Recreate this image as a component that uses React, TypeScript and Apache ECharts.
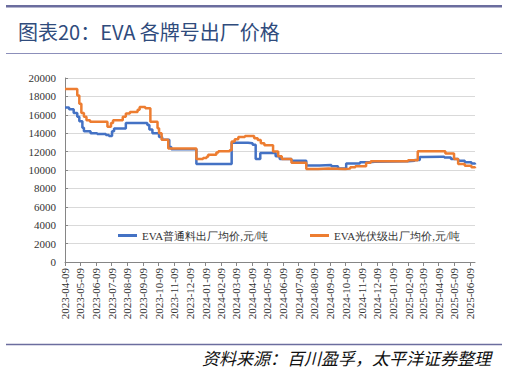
import React, { useEffect, useRef } from "react";
import * as echarts from "echarts";

const titleText = "图表20：EVA 各牌号出厂价格";
const sourceText = "资料来源：百川盈孚，太平洋证券整理";
const seriesNames = ["EVA普通料出厂均价,元/吨", "EVA光伏级出厂均价,元/吨"];

const tickLabels = [
  "2023-04-09", "2023-05-09", "2023-06-09", "2023-07-09", "2023-08-09", "2023-09-09",
  "2023-10-09", "2023-11-09", "2023-12-09", "2024-01-09", "2024-02-09", "2024-03-09",
  "2024-04-09", "2024-05-09", "2024-06-09", "2024-07-09", "2024-08-09", "2024-09-09",
  "2024-10-09", "2024-11-09", "2024-12-09", "2025-01-09", "2025-02-09", "2025-03-09",
  "2025-04-09", "2025-05-09", "2025-06-09",
];
const axisStart = "2023-04-09";
const axisEnd = "2025-06-19";

// EVA 普通料 (blue) – price change points
const blueDates = [
  "2023-04-09", "2023-04-17", "2023-04-26", "2023-05-03", "2023-05-07", "2023-05-13",
  "2023-05-16", "2023-05-29", "2023-06-11", "2023-06-28", "2023-07-04", "2023-07-10",
  "2023-07-14", "2023-08-06", "2023-09-17", "2023-09-21", "2023-09-27", "2023-10-10",
  "2023-10-16", "2023-10-30", "2023-11-03", "2023-12-22", "2024-02-29", "2024-04-01",
  "2024-04-10", "2024-04-16", "2024-04-25", "2024-05-25", "2024-06-02", "2024-06-25",
  "2024-07-24", "2024-08-19", "2024-09-11", "2024-09-24", "2024-10-10", "2024-11-06",
  "2024-11-25", "2024-12-05", "2025-02-08", "2025-02-21", "2025-03-03", "2025-03-10",
  "2025-04-14", "2025-04-20", "2025-05-03", "2025-05-17", "2025-05-30", "2025-06-12",
  "2025-06-19",
];
const blueValues = [
  16800, 16600, 16200, 15800, 15300, 14600,
  14200, 14000, 13900, 13800, 13700, 14200,
  14500, 15100, 14900, 14400, 14000, 13600,
  13300, 12500, 12250, 10650, 12950, 12900,
  12750, 11200, 11850, 11500, 11200, 11000,
  10500, 10550, 10400, 10150, 10700, 10850,
  10900, 10950, 11000, 11100, 11400, 11450,
  11450, 11350, 11200, 11000, 10850, 10700,
  10600,
];

// EVA 光伏级 (orange) – price change points
const orangeDates = [
  "2023-04-09", "2023-05-03", "2023-05-07", "2023-05-11", "2023-05-16", "2023-05-21",
  "2023-05-28", "2023-07-01", "2023-07-08", "2023-07-12", "2023-07-31", "2023-08-06",
  "2023-08-14", "2023-08-29", "2023-09-02", "2023-09-13", "2023-09-23", "2023-10-07",
  "2023-10-10", "2023-10-15", "2023-10-28", "2023-12-22", "2024-01-04", "2024-01-11",
  "2024-01-14", "2024-01-30", "2024-02-03", "2024-02-25", "2024-02-29", "2024-03-06",
  "2024-03-13", "2024-03-26", "2024-04-13", "2024-04-20", "2024-04-26", "2024-05-03",
  "2024-05-20", "2024-05-30", "2024-06-06", "2024-06-25", "2024-07-24", "2024-08-16",
  "2024-09-05", "2024-10-08", "2024-10-18", "2024-10-28", "2024-11-18", "2024-11-27",
  "2025-02-08", "2025-02-27", "2025-04-22", "2025-05-09", "2025-05-17", "2025-05-30",
  "2025-06-12", "2025-06-19",
];
const orangeValues = [
  18800, 18100, 17200, 16200, 15800, 15400,
  15250, 14700, 15100, 15400, 15800, 16150,
  16300, 16550, 16850, 16700, 15250, 14550,
  14000, 13300, 12350, 11200, 11300, 11450,
  11650, 11900, 12050, 12150, 13100, 13350,
  13600, 13700, 13450, 13250, 12900, 12700,
  12000, 11500, 11200, 10800, 10100, 10150,
  10100, 10150, 10300, 10400, 10800, 10950,
  11050, 12050, 11800, 11200, 10650, 10450,
  10300, 10200,
];

const yMin = 0;
const yMax = 20000;
const yStep = 2000;

function toTs(s: string): number {
  const [y, m, d] = s.split("-").map(Number);
  return new Date(y, m - 1, d).getTime();
}
function fmt(v: number): string {
  const d = new Date(v);
  const p = (n: number) => (n < 10 ? "0" + n : "" + n);
  return d.getFullYear() + "-" + p(d.getMonth() + 1) + "-" + p(d.getDate());
}

export default function App() {
  const ref = useRef<HTMLDivElement>(null);
  useEffect(() => {
    if (!ref.current) return;
    const chart = echarts.init(ref.current, null, { renderer: "svg" });
    const tickTs = tickLabels.map(toTs);
    const serif = "Liberation Serif";
    chart.setOption({
      animation: false,
      backgroundColor: "#ffffff",
      grid: { left: 65, right: 32, top: 78, bottom: 109, containLabel: false },
      legend: {
        left: 113,
        top: 225,
        itemGap: 42,
        itemWidth: 19,
        itemHeight: 3,
        icon: "rect",
        textStyle: { fontFamily: serif, fontSize: 11, color: "#333333" },
        data: seriesNames,
      },
      xAxis: {
        type: "value",
        min: toTs(axisStart),
        max: toTs(axisEnd),
        scale: true,
        axisLine: { show: true, lineStyle: { color: "#868686", width: 1 } },
        axisTick: { show: true, customValues: tickTs, length: 4, lineStyle: { color: "#868686" } },
        axisLabel: {
          customValues: tickTs,
          rotate: 90,
          margin: 6,
          fontFamily: serif,
          fontSize: 11,
          color: "#333333",
          hideOverlap: false,
          showMinLabel: true,
          showMaxLabel: true,
          formatter: (v: number) => fmt(v),
        },
        splitLine: { show: false },
      },
      yAxis: {
        type: "value",
        min: yMin,
        max: yMax,
        interval: yStep,
        axisLine: { show: true, lineStyle: { color: "#868686", width: 1 } },
        axisTick: { show: true, inside: true, length: 3, lineStyle: { color: "#868686" } },
        axisLabel: {
          fontFamily: serif,
          fontSize: 11,
          color: "#333333",
          margin: 9,
          formatter: (v: number) => String(v),
        },
        splitLine: { show: true, lineStyle: { color: "#d9d9d9", width: 1 } },
      },
      series: [
        {
          name: seriesNames[0],
          type: "line",
          step: "end",
          showSymbol: false,
          color: "#4472c4",
          lineStyle: { width: 2.5, color: "#4472c4" },
          data: blueDates.map((d, i) => [toTs(d), blueValues[i]]),
        },
        {
          name: seriesNames[1],
          type: "line",
          step: "end",
          showSymbol: false,
          color: "#ed7d31",
          lineStyle: { width: 2.5, color: "#ed7d31" },
          data: orangeDates.map((d, i) => [toTs(d), orangeValues[i]]),
        },
      ],
      graphic: [
        { type: "rect", shape: { x: 6, y: 5, width: 496, height: 2.5 }, style: { fill: "#6b6d9e" } },
        {
          type: "text",
          x: 18,
          y: 31,
          style: {
            text: titleText,
            fill: "#2f4b7c",
            font: "20px Noto Sans CJK SC",
            verticalAlign: "middle",
            align: "left",
          },
        },
        { type: "line", shape: { x1: 6, y1: 53.5, x2: 502, y2: 53.5 }, style: { stroke: "#8c8fba", lineWidth: 1 } },
        { type: "line", shape: { x1: 6, y1: 344.5, x2: 502, y2: 344.5 }, style: { stroke: "#6b6d9e", lineWidth: 1.5 } },
        {
          type: "text",
          x: 491,
          y: 357,
          style: {
            text: sourceText,
            fill: "#111111",
            font: "italic 17px Noto Sans CJK SC",
            verticalAlign: "middle",
            align: "right",
          },
        },
      ],
    });
    return () => chart.dispose();
  }, []);
  return (
    <div
      ref={ref}
      style={{ position: "fixed", left: 0, top: 0, width: 507, height: 371, background: "#fff" }}
    />
  );
}
